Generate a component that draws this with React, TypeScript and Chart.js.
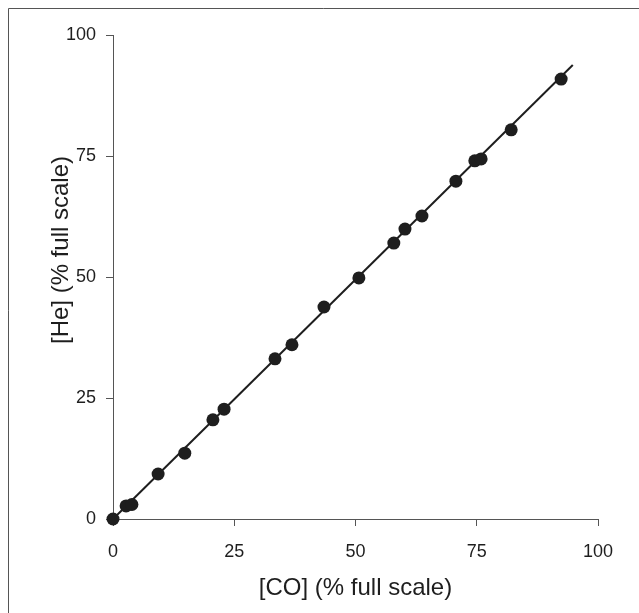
import React, { useEffect, useRef } from "react";
import { Chart, registerables } from "chart.js";

Chart.register(...registerables);

// Measured data: [CO] vs [He], both in % of full scale
const coValues = [0, 2.7, 3.9, 9.3, 14.8, 20.6, 22.9, 33.4, 36.9, 43.5, 50.7, 57.9, 60.2, 63.7, 70.7, 74.6, 75.9, 82.1, 92.4];
const heValues = [0, 2.7, 3.0, 9.3, 13.6, 20.5, 22.7, 33.1, 36.0, 43.8, 49.8, 57.0, 59.9, 62.6, 69.8, 74.0, 74.4, 80.4, 90.9];

// Fitted line end points
const fitX = [0, 94.8];
const fitY = [0, 93.8];

const xTicks = [0, 25, 50, 75, 100];
const yTicks = [0, 25, 50, 75, 100];

const xTitle = "[CO] (% full scale)";
const yTitle = "[He] (% full scale)";

const FONT = "'Liberation Sans', Arial, sans-serif";
const INK = "#1e1e1e";
const AXIS = "#555555";

export default function App() {
  const ref = useRef<HTMLCanvasElement | null>(null);

  useEffect(() => {
    if (!ref.current) return;

    // Only the top and left edges of the figure frame are visible
    const framePlugin = {
      id: "frame",
      afterDraw(chart: any) {
        const { ctx, width, height } = chart;
        ctx.save();
        ctx.strokeStyle = "#555";
        ctx.lineWidth = 1;
        ctx.beginPath();
        ctx.moveTo(8.5, height);
        ctx.lineTo(8.5, 8.5);
        ctx.lineTo(width, 8.5);
        ctx.stroke();
        ctx.restore();
      },
    };

    const yTitlePlugin = {
      id: "yTitleDraw",
      afterDraw(chart: any) {
        const { ctx } = chart;
        ctx.save();
        ctx.translate(61, 250);
        ctx.rotate(-Math.PI / 2);
        ctx.font = `24px ${FONT}`;
        ctx.fillStyle = INK;
        ctx.textAlign = "center";
        ctx.textBaseline = "middle";
        ctx.fillText(yTitle, 0, 0);
        ctx.restore();
      },
    };

    const chart = new Chart(ref.current, {
      type: "scatter",
      data: {
        datasets: [
          {
            type: "line",
            label: "fit",
            data: fitX.map((x, i) => ({ x, y: fitY[i] })),
            borderColor: INK,
            borderWidth: 2,
            pointRadius: 0,
            fill: false,
            clip: false,
            order: 2,
          } as any,
          {
            label: "data",
            data: coValues.map((x, i) => ({ x, y: heValues[i] })),
            backgroundColor: INK,
            borderColor: INK,
            borderWidth: 0,
            pointRadius: 6.5,
            clip: false,
            order: 1,
          } as any,
        ],
      },
      options: {
        responsive: false,
        animation: false,
        layout: { padding: { top: 35, right: 41, left: 8, bottom: 8 } },
        plugins: {
          legend: { display: false },
          tooltip: { enabled: false },
        },
        scales: {
          x: {
            type: "linear",
            min: 0,
            max: 100,
            afterFit: (s: any) => {
              s.height = 86;
            },
            afterBuildTicks: (s: any) => {
              s.ticks = xTicks.map((v) => ({ value: v }));
            },
            grid: {
              display: true,
              drawOnChartArea: false,
              drawTicks: true,
              tickLength: 7,
              color: AXIS,
              lineWidth: 1,
            },
            border: { display: true, color: AXIS, width: 1 },
            ticks: {
              padding: 15,
              color: INK,
              font: { family: FONT, size: 18 },
              maxRotation: 0,
            },
            title: {
              display: true,
              text: xTitle,
              color: INK,
              font: { family: FONT, size: 24 },
              padding: { top: 0, bottom: 2 },
            },
          },
          y: {
            type: "linear",
            min: 0,
            max: 100,
            afterFit: (s: any) => {
              s.width = 105;
            },
            afterBuildTicks: (s: any) => {
              s.ticks = yTicks.map((v) => ({ value: v }));
            },
            grid: {
              display: true,
              drawOnChartArea: false,
              drawTicks: true,
              tickLength: 7,
              color: AXIS,
              lineWidth: 1,
            },
            border: { display: true, color: AXIS, width: 1 },
            ticks: {
              padding: 10,
              color: INK,
              font: { family: FONT, size: 18 },
            },
          },
        },
      },
      plugins: [framePlugin, yTitlePlugin],
    });

    return () => chart.destroy();
  }, []);

  return (
    <canvas
      ref={ref}
      width={639}
      height={613}
      style={{ display: "block", position: "absolute", left: 0, top: 0, width: 639, height: 613 }}
    />
  );
}
